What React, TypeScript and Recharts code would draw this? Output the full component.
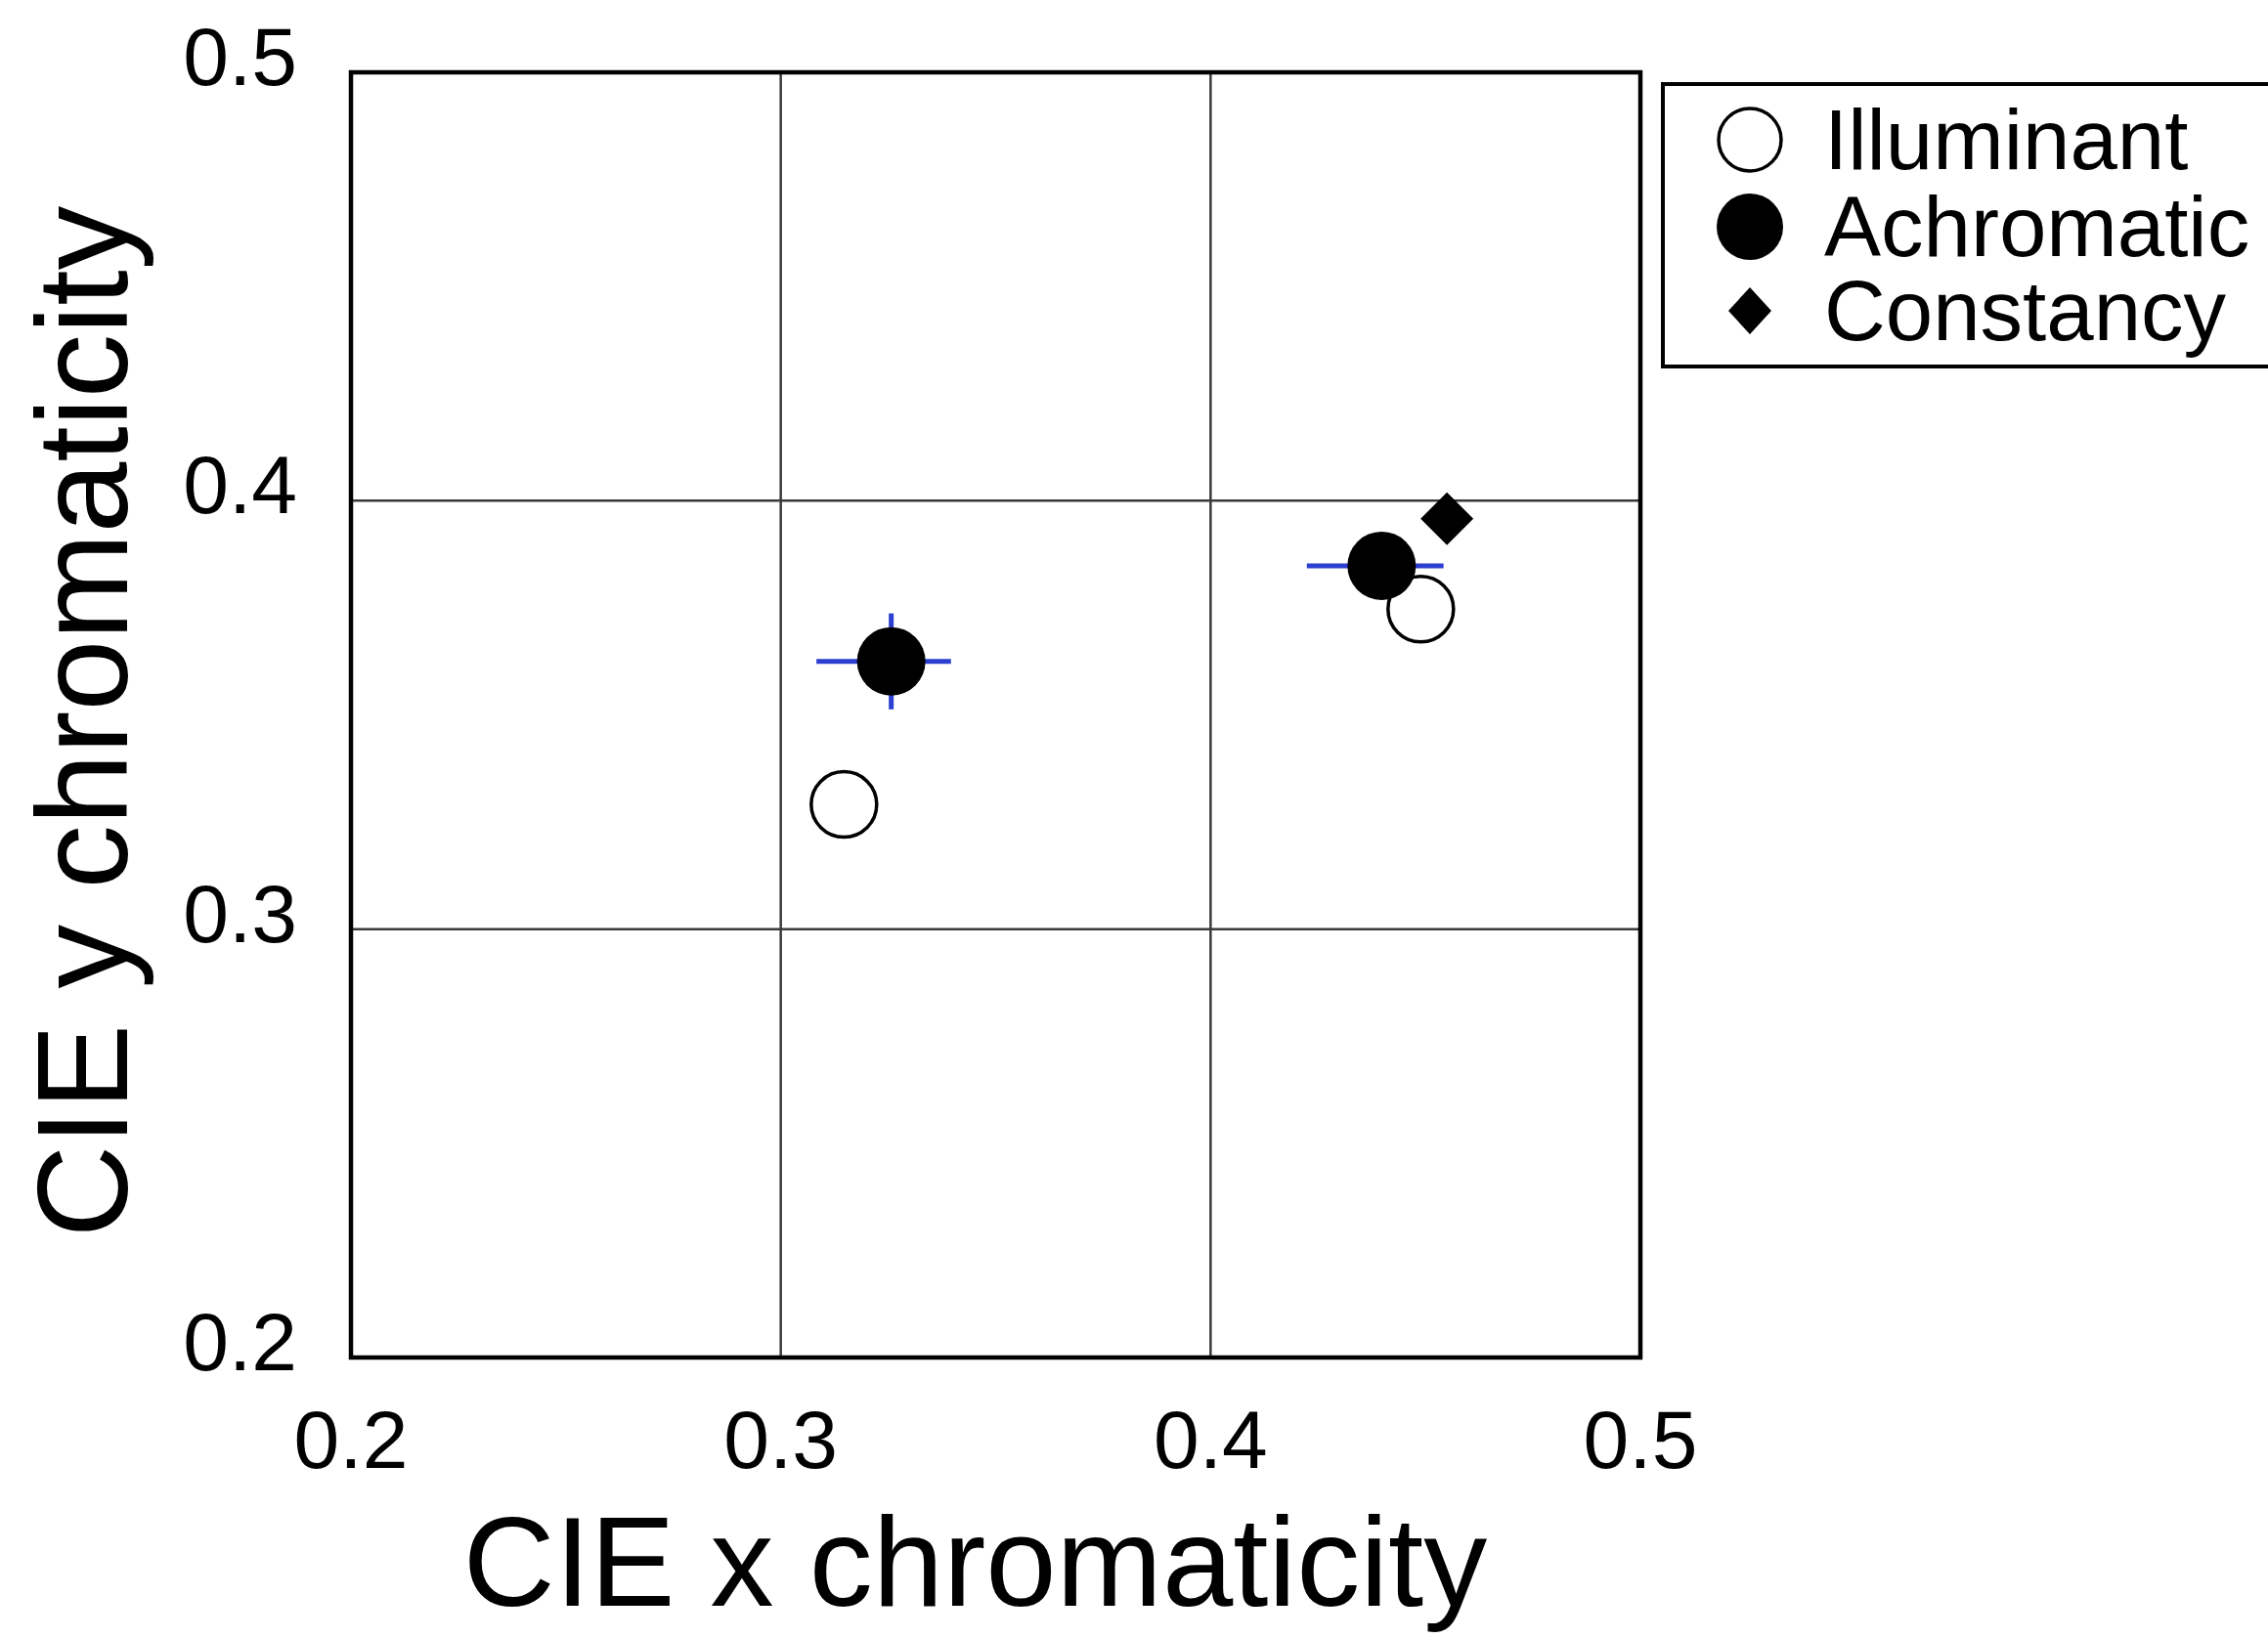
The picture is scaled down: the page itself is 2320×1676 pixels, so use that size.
import React from 'react';
import {
  ScatterChart,
  Scatter,
  XAxis,
  YAxis,
  CartesianGrid,
  ErrorBar,
  ReferenceArea,
  Legend,
  Label,
} from 'recharts';

// ---- data ----
const axisTicks = [0.2, 0.3, 0.4, 0.5];
const xDomain: [number, number] = [0.2, 0.5];
const yDomain: [number, number] = [0.2, 0.5];

const illuminantData = [
  { x: 0.3147, y: 0.3291 },
  { x: 0.4489, y: 0.3747 },
];

const achromaticData = [
  { x: 0.3257, y: 0.3625, ex: [0.0174, 0.0139], ey: 0.0112 },
  { x: 0.4398, y: 0.3848, ex: [0.0174, 0.0144], ey: 0.006 },
];

const constancyData = [{ x: 0.455, y: 0.3958 }];

const seriesNames = ['Illuminant', 'Achromatic', 'Constancy'];
const xTitle = 'CIE x chromaticity';
const yTitle = 'CIE y chromaticity';

// ---- styles ----
const FONT = '"Liberation Sans", Arial, Helvetica, sans-serif';
const ERR_COLOR = '#2b3fd0';

const XTick = (props: any) => {
  const { x, y, payload } = props;
  return (
    <text x={x} y={y + 113} textAnchor="middle" fontSize={84} fontFamily={FONT} fill="#000">
      {Number(payload.value).toFixed(1)}
    </text>
  );
};

const YTick = (props: any) => {
  const { x, y, payload } = props;
  return (
    <text x={x - 55} y={y + 13} textAnchor="end" fontSize={84} fontFamily={FONT} fill="#000">
      {Number(payload.value).toFixed(1)}
    </text>
  );
};

const XTitle = (props: any) => {
  const vb = props.viewBox || { x: 0, y: 0, width: 0, height: 0 };
  return (
    <text
      x={vb.x + vb.width / 2 - 21}
      y={vb.y + 254}
      textAnchor="middle"
      fontSize={130}
      fontFamily={FONT}
      fill="#000"
    >
      {xTitle}
    </text>
  );
};

const YTitle = (props: any) => {
  const vb = props.viewBox || { x: 0, y: 0, width: 0, height: 0 };
  const cx = vb.x - 129;
  const cy = vb.y + vb.height / 2 + 7;
  return (
    <text
      x={cx}
      y={cy}
      transform={`rotate(-90, ${cx}, ${cy})`}
      textAnchor="middle"
      fontSize={131}
      fontFamily={FONT}
      fill="#000"
    >
      {yTitle}
    </text>
  );
};

const OpenCircle = (props: any) => (
  <circle cx={props.cx} cy={props.cy} r={33.5} fill="#fff" stroke="#000" strokeWidth={3.5} />
);

const FilledCircle = (props: any) => (
  <circle cx={props.cx} cy={props.cy} r={35} fill="#000" />
);

const Diamond = (props: any) => {
  const { cx, cy } = props;
  const w = 27;
  const h = 27;
  return <path d={`M${cx},${cy - h}L${cx + w},${cy}L${cx},${cy + h}L${cx - w},${cy}Z`} fill="#000" />;
};

const LegendBox = () => {
  const baselines = [89, 178, 264];
  return (
    <svg width={621} height={293} style={{ display: 'block' }}>
      <rect x={2} y={2} width={622} height={289} fill="#fff" stroke="#000" strokeWidth={4} />
      <circle cx={91} cy={59} r={32} fill="#fff" stroke="#000" strokeWidth={3.5} />
      <circle cx={91} cy={148} r={34} fill="#000" />
      <path d="M91,210L113,234L91,258L69,234Z" fill="#000" />
      {seriesNames.map((n, i) => (
        <text key={n} x={167} y={baselines[i]} fontSize={87} fontFamily={FONT} fill="#000">
          {n}
        </text>
      ))}
    </svg>
  );
};

export default function App() {
  return (
    <div
      style={{
        position: 'absolute',
        left: 0,
        top: 0,
        width: 2320,
        height: 1676,
        background: '#fff',
        overflow: 'hidden',
      }}
    >
      <ScatterChart
        width={2320}
        height={1676}
        margin={{ top: 74, right: 642, bottom: 187, left: 259 }}
      >
        <CartesianGrid stroke="#3a3a3a" strokeWidth={2.5} />
        <XAxis
          type="number"
          dataKey="x"
          domain={xDomain}
          ticks={axisTicks}
          allowDataOverflow
          axisLine={false}
          tickLine={false}
          tickSize={0}
          tickMargin={0}
          height={100}
          tick={<XTick />}
          interval={0}
        >
          <Label content={<XTitle />} />
        </XAxis>
        <YAxis
          type="number"
          dataKey="y"
          domain={yDomain}
          ticks={axisTicks}
          allowDataOverflow
          axisLine={false}
          tickLine={false}
          tickSize={0}
          tickMargin={0}
          width={100}
          tick={<YTick />}
          interval={0}
        >
          <Label content={<YTitle />} />
        </YAxis>
        <ReferenceArea
          x1={xDomain[0]}
          x2={xDomain[1]}
          y1={yDomain[0]}
          y2={yDomain[1]}
          fill="none"
          fillOpacity={0}
          stroke="#000"
          strokeWidth={4.5}
        />
        <Scatter
          name={seriesNames[0]}
          data={illuminantData}
          shape={<OpenCircle />}
          isAnimationActive={false}
        />
        <Scatter
          name={seriesNames[1]}
          data={achromaticData}
          shape={<FilledCircle />}
          isAnimationActive={false}
        >
          <ErrorBar dataKey="ex" direction="x" width={0} stroke={ERR_COLOR} strokeWidth={5} />
          <ErrorBar dataKey="ey" direction="y" width={0} stroke={ERR_COLOR} strokeWidth={5} />
        </Scatter>
        <Scatter
          name={seriesNames[2]}
          data={constancyData}
          shape={<Diamond />}
          isAnimationActive={false}
        />
        <Legend
          layout="vertical"
          align="center"
          verticalAlign="middle"
          wrapperStyle={{ position: 'absolute', left: 1699, top: 84, width: 621, height: 293 }}
          content={() => <LegendBox />}
        />
      </ScatterChart>
    </div>
  );
}
